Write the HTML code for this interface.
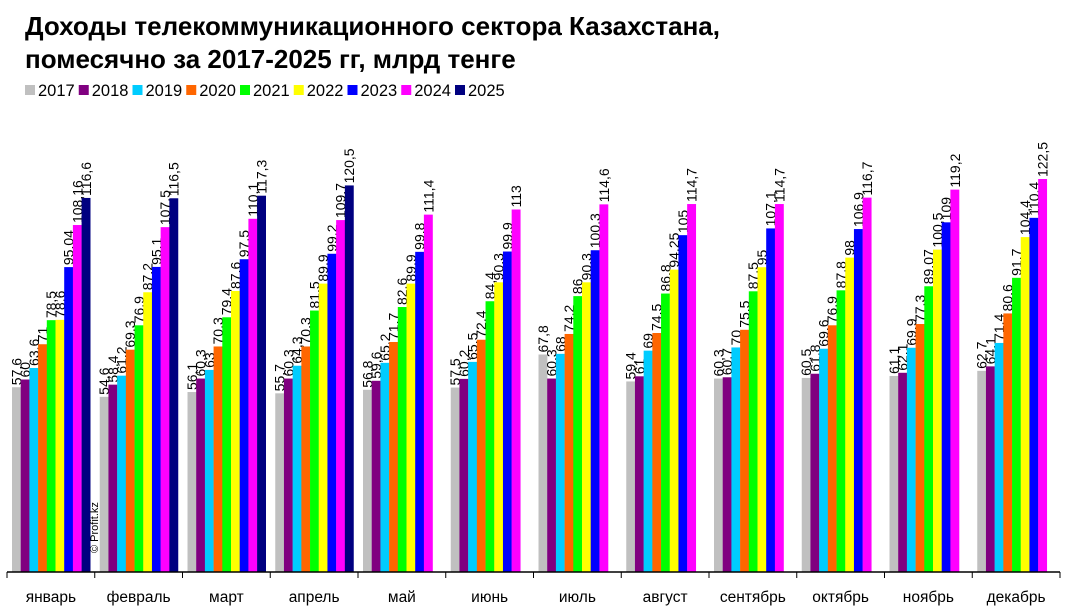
<!DOCTYPE html>
<html><head><meta charset="utf-8"><style>
body{margin:0;background:#fff;width:1065px;height:613px;overflow:hidden}
svg{display:block;font-family:"Liberation Sans",Arial,sans-serif}
</style></head><body>
<svg id="s" width="1065" height="613" xmlns="http://www.w3.org/2000/svg">
<text x="25" y="35" font-size="26" font-weight="bold" textLength="695" lengthAdjust="spacingAndGlyphs">Доходы телекоммуникационного сектора Казахстана,</text>
<text x="25" y="68" font-size="26" font-weight="bold">помесячно за 2017-2025 гг, млрд тенге</text>
<g id="leg"></g>
<g id="bars"></g>
<line x1="7" y1="572" x2="1060" y2="572" stroke="#000" stroke-width="1.5"/>
<g id="ax"></g>
<text transform="translate(98,553) rotate(-90)" font-size="11">© Profit.kz</text>
</svg>
<script>
const cols=["#c0c0c0","#800080","#00ccff","#ff6600","#00ff00","#ffff00","#0000ff","#ff00ff","#000080"];
const yrs=[2017,2018,2019,2020,2021,2022,2023,2024,2025];
const m=["январь","февраль","март","апрель","май","июнь","июль","август","сентябрь","октябрь","ноябрь","декабрь"];
const d=[
[57.6,60,63.6,71,78.5,78.6,95.04,108.16,116.6],
[54.6,58.4,61.2,69.3,76.9,87.2,95.1,107.5,116.5],
[56.1,60.3,63,70.3,79.4,87.6,97.5,110.1,117.3],
[55.7,60.3,64.3,70.3,81.5,89.9,99.2,109.7,120.5],
[56.8,59.6,65.2,71.7,82.6,89.9,99.8,111.4],
[57.5,60.2,65.5,72.4,84.4,90.3,99.9,113],
[67.8,60.3,68,74.2,86,90.3,100.3,114.6],
[59.4,61,69,74.5,86.8,94.25,105,114.7],
[60.3,60.7,70,75.5,87.5,95,107.1,114.7],
[60.5,61.8,69.6,76.9,87.8,98,106.9,116.7],
[61.1,62.1,69.9,77.3,89.07,100.5,109,119.2],
[62.7,64.1,71.4,80.6,91.7,104.4,110.4,122.5]];
const NS="http://www.w3.org/2000/svg";
function el(t,a,p,txt){const e=document.createElementNS(NS,t);for(const k in a)e.setAttribute(k,a[k]);if(txt!==undefined)e.textContent=txt;document.getElementById(p).appendChild(e);}
yrs.forEach((y,i)=>{const x=25+i*53.75;el("rect",{x:x,y:85,width:10,height:10,fill:cols[i]},"leg");el("text",{x:x+13,y:96,"font-size":16.5},"leg",y);});
const cw=(1060-7)/12,bw=8.7,k=3.208;
d.forEach((r,c)=>{const x0=7+c*cw+5;
 r.forEach((v,i)=>{const h=v*k,x=x0+i*bw,t=572-h;
  el("rect",{x:x,y:t,width:bw+0.2,height:h,fill:cols[i]},"bars");
  el("text",{transform:`translate(${x+bw/2+5},${t-2}) rotate(-90)`,"font-size":14},"bars",String(v).replace('.',','));});
 el("line",{x1:7+c*cw,y1:572,x2:7+c*cw,y2:578,stroke:"#000"},"ax");
 el("text",{x:7+c*cw+cw/2,y:602,"font-size":15.5,"text-anchor":"middle"},"ax",m[c]);});
el("line",{x1:1060,y1:572,x2:1060,y2:578,stroke:"#000"},"ax");
</script>
</body></html>
